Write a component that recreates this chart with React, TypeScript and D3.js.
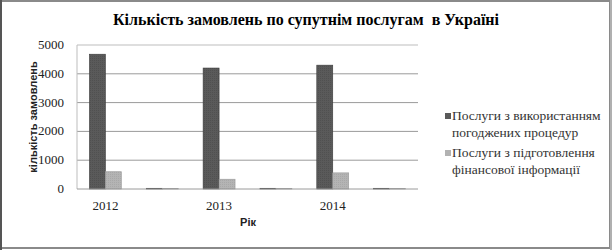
import React from "react";
import * as d3 from "d3";

const categories = ["2012", "", "2013", "", "2014", ""];
const seriesNames = ["Послуги з використанням погоджених процедур", "Послуги з підготовлення фінансової інформації"];
const series1 = [4680, 25, 4200, 25, 4300, 25];
const series2 = [600, 15, 340, 15, 560, 15];
const yTicks = [0, 1000, 2000, 3000, 4000, 5000];
const legendLines = [["Послуги з використанням", "погоджених процедур"], ["Послуги з підготовлення", "фінансової інформації"]];

const W = 613, H = 250;
const left = 77, right = 418, top = 45, bottom = 189;
const colors = ["#5a5a5a", "#b2b2b2"];
const strokes = ["#3c3c3c", "#9a9a9a"];
const SERIF = "'Liberation Serif', 'Times New Roman', 'DejaVu Serif', serif";
const SANS = "'Liberation Sans', Arial, sans-serif";

export default function App() {
  const idx = categories.map((_, i) => i);
  const x0 = d3.scaleBand<number>().domain(idx).range([left, right]).padding(0);
  const x1 = d3.scaleBand<number>().domain([0, 1]).range([0, x0.bandwidth()]).paddingInner(0).paddingOuter(0.78);
  const y = d3.scaleLinear().domain([0, 5000]).range([bottom, top]);
  const data = [series1, series2];
  return (
    <svg width={W} height={H} style={{ position: "absolute", left: 0, top: 0 }}>
      <defs>
        <pattern id="tex" width="2" height="2" patternUnits="userSpaceOnUse">
          <rect width="2" height="2" fill="#5a5a5a" />
          <rect width="1" height="1" fill="#505050" />
        </pattern>
        <pattern id="tex2" width="2" height="2" patternUnits="userSpaceOnUse">
          <rect width="2" height="2" fill="#b4b4b4" />
          <rect width="1" height="1" fill="#a8a8a8" />
        </pattern>
      </defs>
      <rect x={0} y={0} width={W} height={H} fill="#fff" />
      <rect x={1} y={1} width={609} height={247} fill="none" stroke="#8a8a8a" strokeWidth={2} />
      <line x1={1} y1={0} x2={1} y2={H} stroke="#555" strokeWidth={2} />
      <line x1={611} y1={0} x2={611} y2={H} stroke="#b0b0b0" strokeWidth={2} />
      <text x={306} y={25} textAnchor="middle" fontFamily={SERIF} fontWeight="bold" fontSize={16} fill="#000" style={{ whiteSpace: "pre" }}>
        {"Кількість замовлень по супутнім послугам  в Україні"}
      </text>
      {yTicks.map(t => (
        <g key={t}>
          {t > 0 && <line x1={left} x2={right} y1={y(t)} y2={y(t)} stroke={t === 5000 ? "#bdbdbd" : "#9a9a9a"} strokeWidth={1} />}
          <text x={64} y={y(t) + 4} textAnchor="end" fontFamily={SERIF} fontSize={13} fill="#222">{t}</text>
        </g>
      ))}
      <line x1={left} x2={left} y1={top} y2={bottom} stroke="#bdbdbd" />
      {data.map((s, si) => s.map((v, i) => (
        <rect key={si + "-" + i} x={(x0(i) as number) + (x1(si) as number)} y={y(v)} width={x1.bandwidth()} height={bottom - y(v)}
          fill={si === 0 ? "url(#tex)" : "url(#tex2)"} stroke={strokes[si]} strokeWidth={0.6} />
      )))}
      <line x1={left} x2={right} y1={bottom} y2={bottom} stroke="#9a9a9a" />
      {categories.map((c, i) => (
        <text key={i} x={(x0(i) as number) + x0.bandwidth() / 2} y={210} textAnchor="middle" fontFamily={SERIF} fontSize={13} fill="#222">{c}</text>
      ))}
      <text x={248} y={226} textAnchor="middle" fontFamily={SANS} fontWeight="bold" fontSize={11} fill="#222">Рік</text>
      <text transform={`translate(37,${(top + bottom) / 2}) rotate(-90)`} textAnchor="middle" fontFamily={SANS} fontWeight="bold" fontSize={11} fill="#222">кількість замовлень</text>
      {legendLines.map((lines, li) => (
        <g key={li} aria-label={seriesNames[li]}>
          <rect x={445} y={li === 0 ? 113 : 150} width={6} height={6} fill={colors[li]} />
          {lines.map((l, k) => (
            <text key={k} x={452} y={(li === 0 ? 120 : 157) + k * 17} fontFamily={SERIF} fontSize={13.5} fill="#333">{l}</text>
          ))}
        </g>
      ))}
    </svg>
  );
}
